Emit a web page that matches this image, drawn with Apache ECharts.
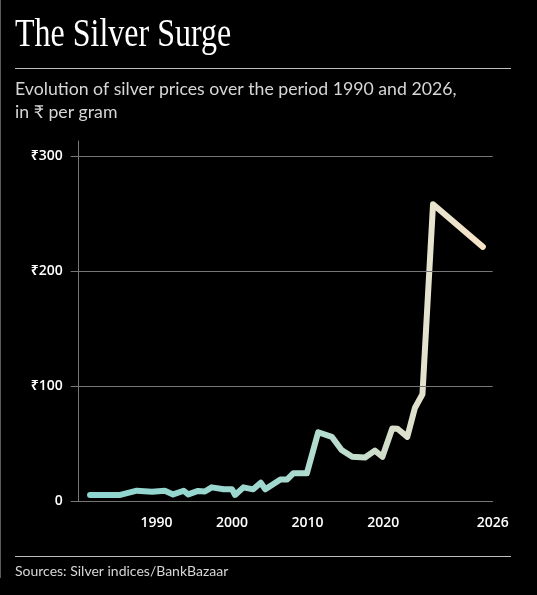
<!DOCTYPE html>
<html>
<head>
<meta charset="UTF-8">
<title>The Silver Surge</title>
<style>
    *{
        padding: 0;
        margin: 0;
        box-sizing: border-box;
    }
    html,body{
        width:100%;
        height:100%;
        background:#000;
    }
    #chart{
        width:537px;
        height:595px;
    }
</style>
</head>
<body>
<div id="chart"></div>
<script src="https://cdn.jsdelivr.net/npm/echarts@6/dist/echarts.min.js"></script>
<script>
// positions along the year axis
var years = [1981.2, 1985.2, 1987.4, 1989.4, 1991.1, 1992.2, 1993.6, 1994.2, 1995.5, 1996.4,
             1997.3, 1998.9, 2000.0, 2000.4, 2001.5, 2002.8, 2003.8, 2004.4, 2006.4, 2007.3,
             2008.1, 2009.9, 2011.4, 2013.2, 2014.5, 2015.9, 2017.6, 2018.9, 2019.9, 2021.2,
             2021.9, 2023.2, 2024.2, 2025.2, 2026.6, 2033.2];
// silver price, ₹ per gram
var prices = [5.5, 5.5, 9.2, 8.3, 9.2, 6, 9.2, 6, 9, 8.5,
              12.1, 10.4, 10.4, 5.5, 12.1, 10.4, 16.1, 10.4, 19, 19,
              24.3, 24.3, 60, 56, 44.5, 38.7, 38, 44, 38.7, 63.3,
              63, 56, 81, 93, 258, 221];
var yTicks = [0, 100, 200, 300];
var xTickValues = [1990, 2000, 2010, 2020, 2034.5];
var xTickLabels = ['1990', '2000', '2010', '2020', '2026'];

var chart = echarts.init(document.getElementById('chart'));

var lineData = [];
for (var i = 0; i < years.length; i++) {
    lineData.push([years[i], prices[i]]);
}

var grey = '#767676';
var sans = "'Open Sans', 'Noto Sans', sans-serif";

var option = {
    backgroundColor: '#000',
    animation: false,
    grid: {
        left: 78.7,
        right: 44.3,
        top: 141,
        bottom: 93.7
    },
    xAxis: {
        type: 'value',
        min: 1979.7,
        max: 2034.5,
        axisLine: { show: true, lineStyle: { color: grey, width: 1 } },
        axisTick: { show: false },
        splitLine: { show: false },
        axisLabel: {
            customValues: xTickValues,
            showMaxLabel: true,
            margin: 15,
            color: '#fff',
            fontFamily: sans,
            fontSize: 14,
            fontWeight: 600,
            formatter: function (v) {
                var k = xTickValues.indexOf(v);
                return k >= 0 ? xTickLabels[k] : '';
            }
        }
    },
    yAxis: {
        type: 'value',
        min: 0,
        max: 313,
        axisLine: { show: true, lineStyle: { color: grey, width: 1 } },
        axisTick: {
            show: true,
            customValues: yTicks,
            length: 8,
            lineStyle: { color: grey }
        },
        splitLine: { show: false },
        axisLabel: {
            customValues: yTicks,
            margin: 16,
            color: '#fff',
            fontFamily: sans,
            fontSize: 14,
            fontWeight: 600,
            formatter: function (v) {
                return v === 0 ? '0' : '₹' + v;
            }
        }
    },
    series: [
        {
            // horizontal gridlines
            type: 'line',
            data: [],
            z: 1,
            markLine: {
                silent: true,
                symbol: 'none',
                label: { show: false },
                lineStyle: { color: grey, width: 1, type: 'solid' },
                data: yTicks.filter(function (v) { return v > 0; }).map(function (v) {
                    return { yAxis: v };
                })
            }
        },
        {
            name: 'Silver',
            type: 'line',
            z: 3,
            data: lineData,
            showSymbol: false,
            smooth: false,
            lineStyle: {
                width: 6,
                cap: 'round',
                join: 'round',
                color: new echarts.graphic.LinearGradient(0, 0, 1, 0, [
                    { offset: 0, color: '#8dd5cf' },
                    { offset: 0.45, color: '#9fd8cf' },
                    { offset: 0.6, color: '#b6dccf' },
                    { offset: 0.75, color: '#d3ddc9' },
                    { offset: 0.87, color: '#e7e3cf' },
                    { offset: 1, color: '#f8e3c6' }
                ])
            }
        }
    ],
    graphic: [
        {
            type: 'line',
            shape: { x1: 0.5, y1: 0, x2: 0.5, y2: 578 },
            style: { stroke: '#5a5a5a', lineWidth: 1 }
        },
        {
            type: 'text',
            x: 15,
            y: 35,
            scaleX: 0.8,
            style: {
                text: 'The Silver Surge',
                fill: '#fff',
                font: "40px 'Liberation Serif', 'DejaVu Serif', serif",
                verticalAlign: 'middle'
            }
        },
        {
            type: 'line',
            shape: { x1: 15, y1: 68.5, x2: 511, y2: 68.5 },
            style: { stroke: '#bdbdbd', lineWidth: 1 }
        },
        {
            type: 'text',
            x: 15,
            y: 89,
            style: {
                text: 'Evolution of silver prices over the period 1990 and 2026,',
                fill: '#d6d6d6',
                font: "17.7px Lato, 'Open Sans', sans-serif",
                verticalAlign: 'middle'
            }
        },
        {
            type: 'text',
            x: 15,
            y: 112,
            style: {
                text: 'in ₹ per gram',
                fill: '#d6d6d6',
                font: "17.7px Lato, 'Open Sans', 'Noto Sans', sans-serif",
                verticalAlign: 'middle'
            }
        },
        {
            type: 'line',
            shape: { x1: 15, y1: 556.5, x2: 511, y2: 556.5 },
            style: { stroke: '#bdbdbd', lineWidth: 1 }
        },
        {
            type: 'text',
            x: 15,
            y: 571,
            style: {
                text: 'Sources: Silver indices/BankBazaar',
                fill: '#d6d6d6',
                font: "14px Lato, 'Open Sans', sans-serif",
                verticalAlign: 'middle'
            }
        }
    ]
};
chart.setOption(option);
</script>
</body>
</html>
